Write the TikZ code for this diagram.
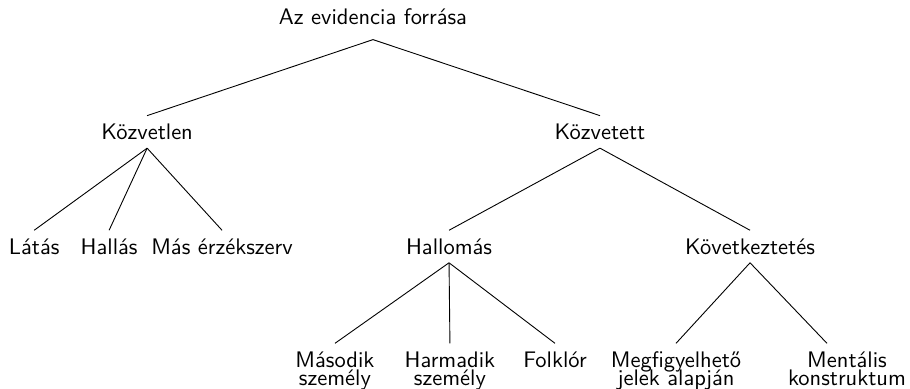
\documentclass[tikz,border=0pt]{standalone}
\usepackage{amsmath}
\usepackage{tikz}
\usetikzlibrary{positioning}

\newcommand{\twoline}[2]{\vbox{\baselineskip=8.1pt\lineskiplimit=-20pt
	\halign{\hfil##\hfil\cr #1\cr #2\cr}}}

\begin{document}
\begin{tikzpicture}[-,thin,node distance=36.5pt]
	\tikzset{every node/.style={font=\sffamily, inner xsep=0pt, inner ysep=3.5pt}}
	\useasboundingbox (-165.8pt,11.1pt) rectangle (238.7pt,-161.8pt);
	\node[anchor=base, inner ysep=6.2pt] (root) at (0,0) {Az evidencia forrása};
	\node (kozvetlen) [below=33.8pt of root, xshift=-100.4pt] {Közvetlen};
	\node (kozvetett) [below=33.8pt of root, xshift=100.9pt] {Közvetett};
	\node (latas) [below=of kozvetlen, xshift=-50.2pt] {Látás};
	\node (hallas) [below=of kozvetlen, xshift=-16.9pt] {Hallás};
	\node (mas) [below=of kozvetlen, xshift=33.3pt] {Más érzékszerv};
	\node (hallomas) [below=of kozvetett, xshift=-67.1pt] {Hallomás};
	\node (kovetkeztetes) [below=of kozvetett, xshift=66.7pt] {Következtetés};
	\node (masodik) [below=35.8pt of hallomas, xshift=-50.7pt] {\twoline{Második}{személy}};
	\node (harmadik) [below=35.8pt of hallomas, xshift=0.4pt] {\twoline{Harmadik}{személy}};
	\node (folklor) [below=35.8pt of hallomas, xshift=47.1pt] {Folklór};
	\node (megfigyelheto) [below=35.8pt of kovetkeztetes, xshift=-32.9pt] {\twoline{Megfigyelhető}{jelek alapján}};
	\node (mentalis) [below=35.8pt of kovetkeztetes, xshift=43.1pt] {\twoline{Mentális}{konstruktum}};

	\path
		(root.south)
			edge (kozvetlen.north)
			edge (kozvetett.north)
		(kozvetlen.south)
			edge (latas.north)
			edge (hallas.north)
			edge (mas.north)
		(kozvetett.south)
			edge (hallomas.north)
			edge (kovetkeztetes.north)
		(hallomas.south)
			edge (masodik.north)
			edge (harmadik.north)
			edge (folklor.north)
		(kovetkeztetes.south)
			edge (megfigyelheto.north)
			edge ([xshift=-8.9pt]mentalis.north);
\end{tikzpicture}
\end{document}
